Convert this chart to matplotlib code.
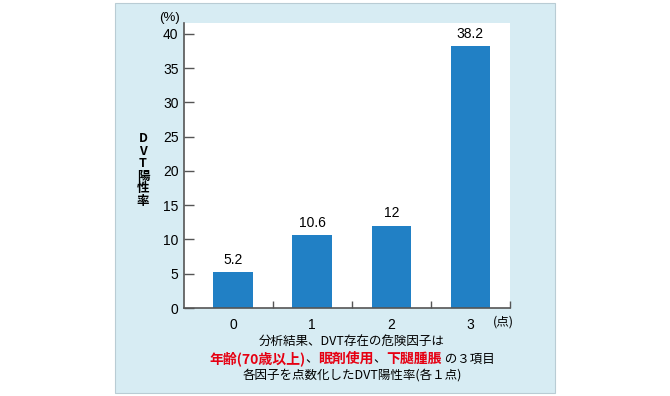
import matplotlib
matplotlib.use("Agg")
import matplotlib.pyplot as plt
from matplotlib.patches import Rectangle

plt.rcParams['font.family'] = ['Liberation Sans', 'Noto Sans CJK JP', 'DejaVu Sans']
JP = ['Noto Sans CJK JP', 'DejaVu Sans']

# data
scores = ['0', '1', '2', '3']
rates = [5.2, 10.6, 12, 38.2]
rate_labels = ['5.2', '10.6', '12', '38.2']
yticks = [0, 5, 10, 15, 20, 25, 30, 35, 40]

note_line1 = '分析結果、DVT存在の危険因子は'
note_line2 = [('年齢(70歳以上)', 'red'), ('、', 'black'), ('眠剤使用', 'red'),
              ('、', 'black'), ('下腿腫脹', 'red'), (' の３項目', 'black')]
note_line3 = '各因子を点数化したDVT陽性率(各１点)'

W, H = 670, 396
fig = plt.figure(figsize=(W / 100, H / 100), dpi=100)

# light blue panel behind everything
panel = Rectangle((115 / W, 1 - 393 / H), 440 / W, 390 / H,
                  transform=fig.transFigure, facecolor='#d7ecf3',
                  edgecolor='#b9ccd4', linewidth=0.8, zorder=-10)
fig.add_artist(panel)

ax = fig.add_axes([184 / W, 1 - 308 / H, 326 / W, 285 / H])
ax.set_facecolor('white')

x = list(range(len(scores)))
ax.bar(x, rates, width=0.5, color='#2180c5', zorder=2)
for xi, v, lab in zip(x, rates, rate_labels):
    ax.annotate(lab, (xi, v), xytext=(0, 4), textcoords='offset points',
                ha='center', va='bottom', fontsize=10)

ax.set_xlim(-0.62, 3.5)
ax.set_ylim(0, 41.6)

ax.set_yticks(yticks)
ax.tick_params(axis='y', direction='in', length=7, width=1, color='#555555',
               labelsize=10, pad=4)
ax.set_xticks(x)
ax.set_xticklabels(scores)
ax.tick_params(axis='x', which='major', length=0, labelsize=10, pad=7)
ax.set_xticks([0.5, 1.5, 2.5, 3.5], minor=True)
ax.tick_params(axis='x', which='minor', direction='in', length=5, width=1,
               color='#555555')

for s in ['top', 'right']:
    ax.spines[s].set_visible(False)
for s in ['left', 'bottom']:
    ax.spines[s].set_color('#555555')
    ax.spines[s].set_linewidth(1.2)

fig.text(169 / W, 1 - 18 / H, '(%)', ha='center', va='center', fontsize=9.5)
fig.text(503 / W, 1 - 322 / H, '(点)', ha='center', va='center', fontsize=9,
         family=JP)
fig.text(143 / W, 1 - 170 / H, 'D\nV\nT\n陽\n性\n率', ha='center', va='center',
         fontsize=9, fontweight='bold', linespacing=0.95, family=JP)

fig.text(352 / W, 1 - 342 / H, note_line1, ha='center', va='center',
         fontsize=9, family=JP)
fig.text(352 / W, 1 - 375 / H, note_line3, ha='center', va='center',
         fontsize=9, family=JP)

# coloured middle line, pieces laid out one after another
renderer = fig.canvas.get_renderer()
pieces = []
for txt, col in note_line2:
    red = col == 'red'
    t = fig.text(0, 1 - 359 / H, txt, color='#e60012' if red else 'black',
                 ha='left', va='center', fontsize=10 if red else 9,
                 fontweight='bold' if red else 'normal', family=JP)
    pieces.append(t)
widths = [p.get_window_extent(renderer).width for p in pieces]
xpos = 352 - sum(widths) / 2
for p, w in zip(pieces, widths):
    p.set_x(xpos / W)
    xpos += w

fig.savefig('out.png', dpi=100)
